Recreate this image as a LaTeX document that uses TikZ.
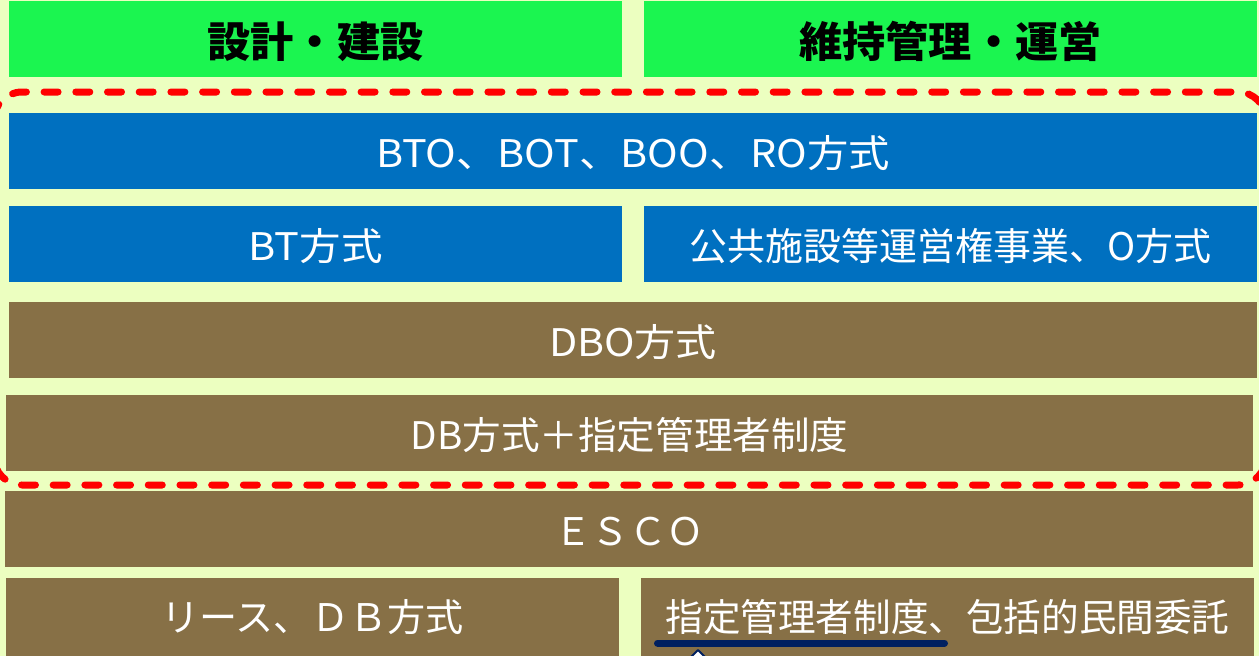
\documentclass[tikz,border=0pt]{standalone}
\usepackage{fontspec}
\setmainfont{Noto Sans CJK JP}
\usepackage{graphicx}
\definecolor{bgc}{RGB}{236,255,192}
\definecolor{hgreen}{RGB}{27,245,80}
\definecolor{hblue}{RGB}{0,112,192}
\definecolor{hbrown}{RGB}{135,112,70}
\definecolor{hnavy}{RGB}{0,32,96}
\newlength\fitlen
\newcommand\fitw[2]{\settowidth\fitlen{#2}\pgfmathsetmacro\fitsx{#1/\fitlen}\scalebox{\fitsx}[1]{#2}}
\tikzset{
  box/.style={inner sep=0pt, outer sep=0pt, minimum height=76pt, text height=32.4pt, text depth=0pt,
    font=\fontsize{38}{40}\selectfont, text=white},
  hdr/.style={box, fill=hgreen, text=black, font=\fontsize{42}{44}\selectfont\bfseries, text height=37.2pt, minimum width=613pt},
  bl/.style={box, fill=hblue},
  br/.style={box, fill=hbrown},
  reddash/.style={draw=red, line width=7pt, line cap=round, dash pattern=on 14pt off 17.7pt, rounded corners=28pt},
  uline/.style={draw=hnavy, line width=7pt, line cap=round},
}
\begin{document}
\begin{tikzpicture}[x=1pt, y=-1pt]
\useasboundingbox (0,0) rectangle (1259,656);
\clip (0,0) rectangle (1259,656);
\fill[bgc] (0,0) rectangle (1259,656);
% headers
\node[hdr] (h1) at (315.5,39) {\fitw{216}{設計・建設}};
\node[hdr] (h2) at (950.5,39) {\fitw{302}{維持管理・運営}};
% blue rows
\node[bl, minimum width=1248pt] (bto) at (633,151) {\fitw{514}{BTO、BOT、BOO、RO方式}};
\node[bl, minimum width=613pt] (bt) at (315.5,244) {\fitw{134}{BT方式}};
\node[bl, minimum width=613pt] (kokyo) at (950.5,244) {\fitw{522}{公共施設等運営権事業、O方式}};
% brown rows
\node[br, minimum width=1248pt] (dbo) at (633,340) {\fitw{168}{DBO方式}};
\node[br, minimum width=1247pt] (dbs) at (629.5,433) {\fitw{438}{DB方式＋指定管理者制度}};
\node[br, minimum width=1248pt] (esco) at (629,529) {\fitw{150}{ＥＳＣＯ}};
\node[br, minimum width=613pt, minimum height=78pt, text height=29.4pt] (lease) at (312.5,617) {\fitw{303}{リース、ＤＢ方式}};
\node[br, minimum width=613pt, minimum height=78pt, text height=29.4pt] (shitei) at (947.5,617) {\fitw{564}{指定管理者制度、包括的民間委託}};
% red dashed frame
\draw[reddash] (-6,92) rectangle (1266,485);
% underline and arrow tip
\draw[uline] (657.5,643) -- (944.5,643);
\draw[hnavy, line width=2pt, fill=white, line join=round] (686,662) -- (698,650) -- (710,662);
\end{tikzpicture}
\end{document}
